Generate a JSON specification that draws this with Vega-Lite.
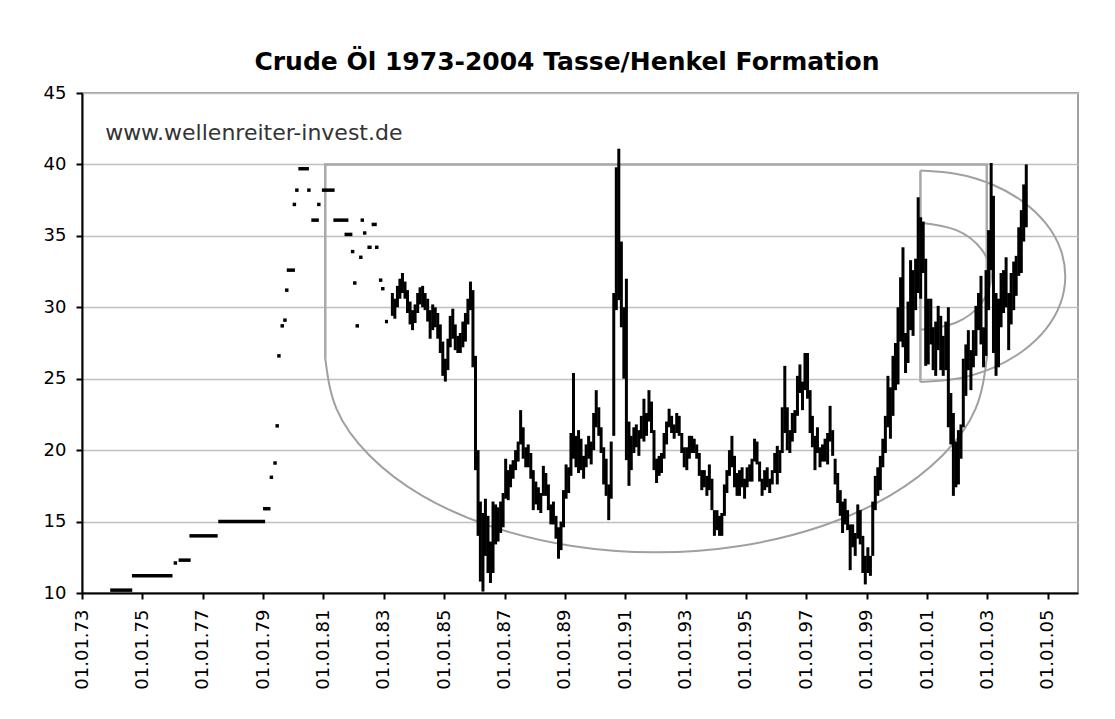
{
  "$schema": "https://vega.github.io/schema/vega-lite/v6.json",
  "width": 996,
  "height": 500,
  "autosize": "none",
  "padding": {"left": 82, "top": 93, "right": 37, "bottom": 126},
  "background": "white",
  "title": {"text": "Crude Öl 1973-2004 Tasse/Henkel Formation", "font": "DejaVu Sans", "fontSize": 25, "fontWeight": "bold", "color": "black", "anchor": "middle", "offset": 9, "dx": -13},
  "config": {
    "font": "DejaVu Sans",
    "view": {"stroke": "#a0a0a0", "strokeWidth": 2},
    "axis": {"labelFont": "DejaVu Sans", "labelFontSize": 18, "labelColor": "black", "domainColor": "black", "domainWidth": 2, "tickColor": "black", "tickWidth": 2, "tickSize": 6}
  },
  "datasets": {
    "ranges": [
      {"date":"1983-04-15","low":29.4,"high":31.0},{"date":"1983-05-15","low":29.2,"high":30.6},{"date":"1983-06-15","low":30.0,"high":31.5},{"date":"1983-07-15","low":30.6,"high":32.0},{"date":"1983-08-15","low":31.0,"high":32.4},{"date":"1983-09-15","low":30.6,"high":31.8},{"date":"1983-10-15","low":29.6,"high":31.2},{"date":"1983-11-15","low":28.8,"high":30.4},{"date":"1983-12-15","low":28.4,"high":29.8},
      {"date":"1984-01-15","low":28.9,"high":30.2},{"date":"1984-02-15","low":29.6,"high":31.0},{"date":"1984-03-15","low":30.2,"high":31.4},{"date":"1984-04-15","low":30.0,"high":31.5},{"date":"1984-05-15","low":29.8,"high":31.0},{"date":"1984-06-15","low":29.0,"high":30.6},{"date":"1984-07-15","low":27.8,"high":29.8},{"date":"1984-08-15","low":28.4,"high":30.2},{"date":"1984-09-15","low":28.6,"high":30.0},{"date":"1984-10-15","low":27.8,"high":29.6},{"date":"1984-11-15","low":26.8,"high":28.8},{"date":"1984-12-15","low":25.2,"high":27.6},
      {"date":"1985-01-15","low":24.8,"high":26.4},{"date":"1985-02-15","low":25.6,"high":27.8},{"date":"1985-03-15","low":27.2,"high":29.4},{"date":"1985-04-15","low":27.8,"high":29.9},{"date":"1985-05-15","low":27.0,"high":28.8},{"date":"1985-06-15","low":26.8,"high":28.0},{"date":"1985-07-15","low":26.8,"high":28.2},{"date":"1985-08-15","low":27.2,"high":29.0},{"date":"1985-09-15","low":27.6,"high":29.6},{"date":"1985-10-15","low":28.8,"high":30.6},{"date":"1985-11-15","low":29.8,"high":31.8},{"date":"1985-12-15","low":25.8,"high":31.2},
      {"date":"1986-01-15","low":18.6,"high":26.6},{"date":"1986-02-15","low":14.0,"high":20.0},{"date":"1986-03-15","low":10.8,"high":16.4},{"date":"1986-04-15","low":10.1,"high":15.6},{"date":"1986-05-15","low":12.6,"high":16.6},{"date":"1986-06-15","low":11.4,"high":15.4},{"date":"1986-07-15","low":10.7,"high":13.6},{"date":"1986-08-15","low":11.4,"high":16.4},{"date":"1986-09-15","low":13.4,"high":16.2},{"date":"1986-10-15","low":13.6,"high":16.0},{"date":"1986-11-15","low":14.2,"high":16.4},{"date":"1986-12-15","low":14.6,"high":17.0},
      {"date":"1987-01-15","low":16.6,"high":19.4},{"date":"1987-02-15","low":16.5,"high":18.6},{"date":"1987-03-15","low":17.4,"high":19.0},{"date":"1987-04-15","low":18.0,"high":19.3},{"date":"1987-05-15","low":18.6,"high":20.0},{"date":"1987-06-15","low":19.2,"high":20.6},{"date":"1987-07-15","low":20.4,"high":22.8},{"date":"1987-08-15","low":19.4,"high":21.6},{"date":"1987-09-15","low":18.8,"high":20.2},{"date":"1987-10-15","low":18.8,"high":20.4},{"date":"1987-11-15","low":18.0,"high":19.8},{"date":"1987-12-15","low":15.8,"high":18.6},
      {"date":"1988-01-15","low":16.2,"high":17.8},{"date":"1988-02-15","low":15.8,"high":17.4},{"date":"1988-03-15","low":15.6,"high":17.0},{"date":"1988-04-15","low":16.8,"high":18.9},{"date":"1988-05-15","low":16.8,"high":18.4},{"date":"1988-06-15","low":15.8,"high":17.6},{"date":"1988-07-15","low":14.8,"high":16.2},{"date":"1988-08-15","low":14.8,"high":16.4},{"date":"1988-09-15","low":13.8,"high":15.4},{"date":"1988-10-15","low":12.4,"high":14.6},{"date":"1988-11-15","low":13.0,"high":15.0},{"date":"1988-12-15","low":14.6,"high":17.2},
      {"date":"1989-01-15","low":16.6,"high":19.0},{"date":"1989-02-15","low":17.0,"high":18.8},{"date":"1989-03-15","low":18.2,"high":21.2},{"date":"1989-04-15","low":19.4,"high":25.4},{"date":"1989-05-15","low":18.8,"high":21.0},{"date":"1989-06-15","low":18.4,"high":21.4},{"date":"1989-07-15","low":18.6,"high":20.8},{"date":"1989-08-15","low":18.0,"high":19.6},{"date":"1989-09-15","low":18.8,"high":20.4},{"date":"1989-10-15","low":19.4,"high":21.0},{"date":"1989-11-15","low":19.0,"high":20.6},{"date":"1989-12-15","low":20.0,"high":22.6},
      {"date":"1990-01-15","low":21.6,"high":24.2},{"date":"1990-02-15","low":21.0,"high":23.0},{"date":"1990-03-15","low":19.8,"high":21.6},{"date":"1990-04-15","low":17.6,"high":20.2},{"date":"1990-05-15","low":16.8,"high":19.4},{"date":"1990-06-15","low":15.1,"high":17.6},{"date":"1990-07-15","low":16.6,"high":20.6},{"date":"1990-08-15","low":21.0,"high":31.0},{"date":"1990-09-15","low":29.8,"high":39.8},{"date":"1990-10-15","low":30.5,"high":41.1},{"date":"1990-11-15","low":28.6,"high":34.6},{"date":"1990-12-15","low":25.0,"high":30.0},
      {"date":"1991-01-15","low":19.3,"high":32.0},{"date":"1991-02-15","low":17.5,"high":22.0},{"date":"1991-03-15","low":18.6,"high":21.0},{"date":"1991-04-15","low":19.8,"high":21.6},{"date":"1991-05-15","low":20.2,"high":21.8},{"date":"1991-06-15","low":19.6,"high":21.4},{"date":"1991-07-15","low":20.8,"high":22.4},{"date":"1991-08-15","low":20.6,"high":23.6},{"date":"1991-09-15","low":21.0,"high":22.6},{"date":"1991-10-15","low":22.0,"high":24.2},{"date":"1991-11-15","low":21.2,"high":23.4},{"date":"1991-12-15","low":18.6,"high":21.4},
      {"date":"1992-01-15","low":17.7,"high":19.4},{"date":"1992-02-15","low":18.2,"high":19.6},{"date":"1992-03-15","low":18.4,"high":19.8},{"date":"1992-04-15","low":19.4,"high":21.2},{"date":"1992-05-15","low":20.4,"high":22.0},{"date":"1992-06-15","low":21.6,"high":22.9},{"date":"1992-07-15","low":21.2,"high":22.4},{"date":"1992-08-15","low":20.8,"high":21.8},{"date":"1992-09-15","low":21.2,"high":22.6},{"date":"1992-10-15","low":21.0,"high":22.4},{"date":"1992-11-15","low":19.8,"high":21.2},{"date":"1992-12-15","low":18.8,"high":20.2},
      {"date":"1993-01-15","low":18.6,"high":20.2},{"date":"1993-02-15","low":19.4,"high":21.0},{"date":"1993-03-15","low":19.8,"high":21.0},{"date":"1993-04-15","low":19.8,"high":20.8},{"date":"1993-05-15","low":19.4,"high":20.4},{"date":"1993-06-15","low":18.2,"high":19.8},{"date":"1993-07-15","low":17.2,"high":18.6},{"date":"1993-08-15","low":17.4,"high":18.6},{"date":"1993-09-15","low":16.8,"high":18.2},{"date":"1993-10-15","low":17.2,"high":19.0},{"date":"1993-11-15","low":15.8,"high":18.0},{"date":"1993-12-15","low":14.0,"high":15.8},
      {"date":"1994-01-15","low":14.4,"high":15.8},{"date":"1994-02-15","low":14.0,"high":15.4},{"date":"1994-03-15","low":14.0,"high":15.6},{"date":"1994-04-15","low":15.4,"high":17.6},{"date":"1994-05-15","low":17.0,"high":18.6},{"date":"1994-06-15","low":18.2,"high":20.0},{"date":"1994-07-15","low":18.8,"high":21.0},{"date":"1994-08-15","low":17.4,"high":19.6},{"date":"1994-09-15","low":16.8,"high":18.4},{"date":"1994-10-15","low":16.8,"high":18.6},{"date":"1994-11-15","low":17.4,"high":18.8},{"date":"1994-12-15","low":16.6,"high":18.0},
      {"date":"1995-01-15","low":17.4,"high":18.8},{"date":"1995-02-15","low":17.8,"high":19.0},{"date":"1995-03-15","low":17.8,"high":19.4},{"date":"1995-04-15","low":19.2,"high":20.8},{"date":"1995-05-15","low":19.0,"high":20.6},{"date":"1995-06-15","low":17.8,"high":19.2},{"date":"1995-07-15","low":16.8,"high":18.0},{"date":"1995-08-15","low":17.2,"high":18.6},{"date":"1995-09-15","low":17.4,"high":18.8},{"date":"1995-10-15","low":17.0,"high":18.0},{"date":"1995-11-15","low":17.6,"high":18.6},{"date":"1995-12-15","low":18.4,"high":19.8},
      {"date":"1996-01-15","low":17.6,"high":20.3},{"date":"1996-02-15","low":18.4,"high":20.0},{"date":"1996-03-15","low":19.8,"high":23.0},{"date":"1996-04-15","low":21.2,"high":25.9},{"date":"1996-05-15","low":20.0,"high":23.0},{"date":"1996-06-15","low":19.8,"high":21.4},{"date":"1996-07-15","low":20.6,"high":22.6},{"date":"1996-08-15","low":21.2,"high":22.8},{"date":"1996-09-15","low":22.4,"high":25.2},{"date":"1996-10-15","low":24.0,"high":26.0},{"date":"1996-11-15","low":22.8,"high":24.8},{"date":"1996-12-15","low":24.2,"high":26.8},
      {"date":"1997-01-15","low":23.6,"high":26.8},{"date":"1997-02-15","low":21.2,"high":24.2},{"date":"1997-03-15","low":20.2,"high":22.4},{"date":"1997-04-15","low":18.6,"high":21.0},{"date":"1997-05-15","low":19.8,"high":21.6},{"date":"1997-06-15","low":18.8,"high":20.2},{"date":"1997-07-15","low":19.2,"high":20.4},{"date":"1997-08-15","low":19.2,"high":20.8},{"date":"1997-09-15","low":19.0,"high":21.2},{"date":"1997-10-15","low":20.6,"high":23.1},{"date":"1997-11-15","low":19.6,"high":21.4},{"date":"1997-12-15","low":17.6,"high":19.4},
      {"date":"1998-01-15","low":16.3,"high":18.4},{"date":"1998-02-15","low":15.4,"high":17.2},{"date":"1998-03-15","low":14.2,"high":16.4},{"date":"1998-04-15","low":14.8,"high":16.6},{"date":"1998-05-15","low":14.4,"high":15.8},{"date":"1998-06-15","low":11.6,"high":14.8},{"date":"1998-07-15","low":13.2,"high":14.8},{"date":"1998-08-15","low":12.6,"high":14.2},{"date":"1998-09-15","low":13.8,"high":16.2},{"date":"1998-10-15","low":13.4,"high":15.8},{"date":"1998-11-15","low":11.4,"high":14.0},{"date":"1998-12-15","low":10.6,"high":12.6},
      {"date":"1999-01-15","low":11.4,"high":13.2},{"date":"1999-02-15","low":11.2,"high":12.6},{"date":"1999-03-15","low":12.6,"high":16.4},{"date":"1999-04-15","low":15.8,"high":18.2},{"date":"1999-05-15","low":16.8,"high":18.8},{"date":"1999-06-15","low":17.2,"high":19.6},{"date":"1999-07-15","low":18.8,"high":20.8},{"date":"1999-08-15","low":19.8,"high":22.4},{"date":"1999-09-15","low":21.6,"high":25.2},{"date":"1999-10-15","low":20.8,"high":24.4},{"date":"1999-11-15","low":22.4,"high":26.6},{"date":"1999-12-15","low":24.2,"high":27.5},
      {"date":"2000-01-15","low":24.6,"high":30.0},{"date":"2000-02-15","low":27.6,"high":32.1},{"date":"2000-03-15","low":27.2,"high":34.2},{"date":"2000-04-15","low":25.4,"high":28.2},{"date":"2000-05-15","low":26.1,"high":30.4},{"date":"2000-06-15","low":28.4,"high":33.3},{"date":"2000-07-15","low":28.0,"high":32.6},{"date":"2000-08-15","low":29.8,"high":33.4},{"date":"2000-09-15","low":31.0,"high":37.7},{"date":"2000-10-15","low":30.6,"high":36.3},{"date":"2000-11-15","low":32.4,"high":36.0},{"date":"2000-12-15","low":25.9,"high":33.4},
      {"date":"2001-01-15","low":26.0,"high":30.6},{"date":"2001-02-15","low":27.4,"high":30.6},{"date":"2001-03-15","low":25.6,"high":28.6},{"date":"2001-04-15","low":25.2,"high":29.0},{"date":"2001-05-15","low":27.0,"high":30.1},{"date":"2001-06-15","low":25.6,"high":29.4},{"date":"2001-07-15","low":25.2,"high":28.0},{"date":"2001-08-15","low":25.6,"high":29.0},{"date":"2001-09-15","low":21.6,"high":30.0},{"date":"2001-10-15","low":20.4,"high":24.0},{"date":"2001-11-15","low":16.8,"high":22.6},{"date":"2001-12-15","low":17.4,"high":20.6},
      {"date":"2002-01-15","low":17.6,"high":21.4},{"date":"2002-02-15","low":19.4,"high":21.8},{"date":"2002-03-15","low":21.6,"high":26.4},{"date":"2002-04-15","low":23.8,"high":27.4},{"date":"2002-05-15","low":25.6,"high":28.4},{"date":"2002-06-15","low":24.2,"high":27.0},{"date":"2002-07-15","low":25.8,"high":28.4},{"date":"2002-08-15","low":26.6,"high":30.1},{"date":"2002-09-15","low":28.4,"high":31.0},{"date":"2002-10-15","low":27.4,"high":32.2},{"date":"2002-11-15","low":25.8,"high":28.6},{"date":"2002-12-15","low":26.6,"high":32.6},
      {"date":"2003-01-15","low":29.8,"high":35.4},{"date":"2003-02-15","low":32.6,"high":40.1},{"date":"2003-03-15","low":26.8,"high":37.8},{"date":"2003-04-15","low":25.2,"high":31.0},{"date":"2003-05-15","low":25.8,"high":30.6},{"date":"2003-06-15","low":28.6,"high":32.4},{"date":"2003-07-15","low":29.6,"high":32.6},{"date":"2003-08-15","low":30.0,"high":33.5},{"date":"2003-09-15","low":27.0,"high":31.0},{"date":"2003-10-15","low":28.8,"high":32.4},{"date":"2003-11-15","low":29.8,"high":33.2},{"date":"2003-12-15","low":30.8,"high":33.6},
      {"date":"2004-01-15","low":32.2,"high":35.6},{"date":"2004-02-15","low":32.4,"high":36.8},{"date":"2004-03-15","low":34.6,"high":38.6},{"date":"2004-04-15","low":35.6,"high":40.0}
    ],
    "steps": [
      {"start":"1973-12-08","end":"1974-09-01","price":10.2},
      {"start":"1974-08-28","end":"1976-01-01","price":11.2},
      {"start":"1976-03-15","end":"1976-08-08","price":12.3},
      {"start":"1976-07-24","end":"1977-07-01","price":14.0},
      {"start":"1977-07-08","end":"1979-01-26","price":15.0},
      {"start":"1979-01-01","end":"1979-04-01","price":15.9},
      {"start":"1979-10-15","end":"1980-01-22","price":32.6},
      {"start":"1980-03-03","end":"1980-07-09","price":39.7},
      {"start":"1980-08-07","end":"1980-11-06","price":36.1},
      {"start":"1980-12-13","end":"1981-05-16","price":38.2},
      {"start":"1981-05-01","end":"1981-10-30","price":36.1},
      {"start":"1981-09-13","end":"1981-12-17","price":35.1},
      {"start":"1982-06-17","end":"1982-08-07","price":34.2},
      {"start":"1982-08-07","end":"1982-10-08","price":35.8},
      {"start":"1983-01-15","end":"1983-02-21","price":29.0}
    ],
    "dots": [
      {"date":"1976-02-05","price":12.1},
      {"date":"1979-04-12","price":18.1},
      {"date":"1979-05-26","price":19.1},
      {"date":"1979-06-21","price":21.7},
      {"date":"1979-07-12","price":26.6},
      {"date":"1979-08-21","price":28.7},
      {"date":"1979-09-23","price":29.1},
      {"date":"1979-10-15","price":31.2},
      {"date":"1980-01-15","price":37.2},
      {"date":"1980-02-14","price":38.2},
      {"date":"1980-07-09","price":38.2},
      {"date":"1980-11-06","price":37.2},
      {"date":"1981-12-20","price":33.9},
      {"date":"1982-01-15","price":31.7},
      {"date":"1982-02-14","price":28.7},
      {"date":"1982-03-29","price":33.5},
      {"date":"1982-04-16","price":36.1},
      {"date":"1982-05-15","price":35.2},
      {"date":"1982-10-08","price":34.2},
      {"date":"1982-11-24","price":31.9},
      {"date":"1982-12-20","price":31.3}
    ],
    "frame": [
      {"shape":"cup","seq":1,"date":"1981-01-23","price":26.4},
      {"shape":"cup","seq":2,"date":"1981-01-23","price":40.0},
      {"shape":"cup","seq":3,"date":"2002-12-24","price":40.0},
      {"shape":"cup","seq":4,"date":"2002-12-24","price":26.4},
      {"shape":"handle","seq":1,"date":"2000-10-12","price":39.57},
      {"shape":"handle","seq":2,"date":"2000-10-12","price":24.77}
    ],
    "arcs": [
      {"shape":"cup","seq":1,"date":"1981-01-23","price":26.4},
      {"shape":"cup","seq":2,"date":"1981-06-08","price":22.89},
      {"shape":"cup","seq":3,"date":"1982-07-12","price":19.63},
      {"shape":"cup","seq":4,"date":"1984-04-08","price":16.82},
      {"shape":"cup","seq":5,"date":"1986-07-17","price":14.67},
      {"shape":"cup","seq":6,"date":"1989-03-09","price":13.31},
      {"shape":"cup","seq":7,"date":"1992-01-08","price":12.85},
      {"shape":"cup","seq":8,"date":"1994-11-09","price":13.31},
      {"shape":"cup","seq":9,"date":"1997-07-02","price":14.67},
      {"shape":"cup","seq":10,"date":"1999-10-09","price":16.82},
      {"shape":"cup","seq":11,"date":"2001-07-06","price":19.63},
      {"shape":"cup","seq":12,"date":"2002-08-10","price":22.89},
      {"shape":"cup","seq":13,"date":"2002-12-24","price":26.4},
      {"shape":"outer","seq":1,"date":"2000-10-12","price":39.57},
      {"shape":"outer","seq":2,"date":"2002-01-09","price":39.32},
      {"shape":"outer","seq":3,"date":"2003-03-08","price":38.58},
      {"shape":"outer","seq":4,"date":"2004-03-04","price":37.40},
      {"shape":"outer","seq":5,"date":"2004-12-08","price":35.87},
      {"shape":"outer","seq":6,"date":"2005-06-02","price":34.09},
      {"shape":"outer","seq":7,"date":"2005-07-31","price":32.17},
      {"shape":"outer","seq":8,"date":"2005-06-02","price":30.25},
      {"shape":"outer","seq":9,"date":"2004-12-08","price":28.47},
      {"shape":"outer","seq":10,"date":"2004-03-04","price":26.94},
      {"shape":"outer","seq":11,"date":"2003-03-08","price":25.76},
      {"shape":"outer","seq":12,"date":"2002-01-09","price":25.02},
      {"shape":"outer","seq":13,"date":"2000-10-12","price":24.77},
      {"shape":"inner","seq":1,"date":"2000-10-12","price":35.92},
      {"shape":"inner","seq":2,"date":"2001-12-13","price":35.42},
      {"shape":"inner","seq":3,"date":"2002-10-22","price":34.05},
      {"shape":"inner","seq":4,"date":"2003-02-14","price":32.17},
      {"shape":"inner","seq":5,"date":"2002-10-22","price":30.30},
      {"shape":"inner","seq":6,"date":"2001-12-13","price":28.92},
      {"shape":"inner","seq":7,"date":"2000-10-12","price":28.42}
    ],
    "note": [
      {"date":"1973-10-08","price":41.7,"label":"www.wellenreiter-invest.de"}
    ]
  },
  "layer": [
    {
      "data": {"name": "frame"},
      "mark": {"type": "line", "color": "#a8a8a8", "strokeWidth": 2.5, "interpolate": "linear"},
      "encoding": {
        "x": {"field": "date", "type": "temporal", "title": null,
          "scale": {"type": "utc", "domain": [{"year": 1973, "month": 1, "date": 1, "utc": true}, {"year": 2006, "month": 1, "date": 1, "utc": true}]},
          "axis": {"values": [
            {"year": 1973, "month": 1, "date": 1, "utc": true},{"year": 1975, "month": 1, "date": 1, "utc": true},{"year": 1977, "month": 1, "date": 1, "utc": true},{"year": 1979, "month": 1, "date": 1, "utc": true},
            {"year": 1981, "month": 1, "date": 1, "utc": true},{"year": 1983, "month": 1, "date": 1, "utc": true},{"year": 1985, "month": 1, "date": 1, "utc": true},{"year": 1987, "month": 1, "date": 1, "utc": true},
            {"year": 1989, "month": 1, "date": 1, "utc": true},{"year": 1991, "month": 1, "date": 1, "utc": true},{"year": 1993, "month": 1, "date": 1, "utc": true},{"year": 1995, "month": 1, "date": 1, "utc": true},
            {"year": 1997, "month": 1, "date": 1, "utc": true},{"year": 1999, "month": 1, "date": 1, "utc": true},{"year": 2001, "month": 1, "date": 1, "utc": true},{"year": 2003, "month": 1, "date": 1, "utc": true},
            {"year": 2005, "month": 1, "date": 1, "utc": true}],
            "format": "%d.%m.%y", "labelAngle": -90, "grid": false, "labelPadding": 10, "labelOverlap": false, "labelFlush": false}},
        "y": {"field": "price", "type": "quantitative", "title": null,
          "scale": {"domain": [10, 45], "nice": false, "zero": false},
          "axis": {"values": [10, 15, 20, 25, 30, 35, 40, 45], "grid": true, "gridColor": "#c0c0c0", "gridWidth": 1.5, "labelPadding": 10}},
        "detail": {"field": "shape"},
        "order": {"field": "seq"}
      }
    },
    {
      "data": {"name": "arcs"},
      "mark": {"type": "line", "color": "#a0a0a0", "strokeWidth": 2, "interpolate": "natural"},
      "encoding": {
        "x": {"field": "date", "type": "temporal", "title": null},
        "y": {"field": "price", "type": "quantitative", "title": null},
        "detail": {"field": "shape"},
        "order": {"field": "seq"}
      }
    },
    {
      "data": {"name": "ranges"},
      "mark": {"type": "rule", "color": "black", "strokeWidth": 3},
      "encoding": {
        "x": {"field": "date", "type": "temporal", "title": null},
        "y": {"field": "low", "type": "quantitative", "title": null},
        "y2": {"field": "high"}
      }
    },
    {
      "data": {"name": "steps"},
      "mark": {"type": "rule", "color": "black", "strokeWidth": 3.5},
      "encoding": {
        "x": {"field": "start", "type": "temporal", "title": null},
        "x2": {"field": "end"},
        "y": {"field": "price", "type": "quantitative", "title": null}
      }
    },
    {
      "data": {"name": "dots"},
      "mark": {"type": "point", "shape": "square", "filled": true, "color": "black", "size": 12, "opacity": 1},
      "encoding": {
        "x": {"field": "date", "type": "temporal", "title": null},
        "y": {"field": "price", "type": "quantitative", "title": null}
      }
    },
    {
      "data": {"name": "note"},
      "mark": {"type": "text", "align": "left", "baseline": "alphabetic", "font": "DejaVu Sans", "fontSize": 22, "color": "#333333"},
      "encoding": {
        "x": {"field": "date", "type": "temporal", "title": null},
        "y": {"field": "price", "type": "quantitative", "title": null},
        "text": {"field": "label"}
      }
    }
  ]
}
